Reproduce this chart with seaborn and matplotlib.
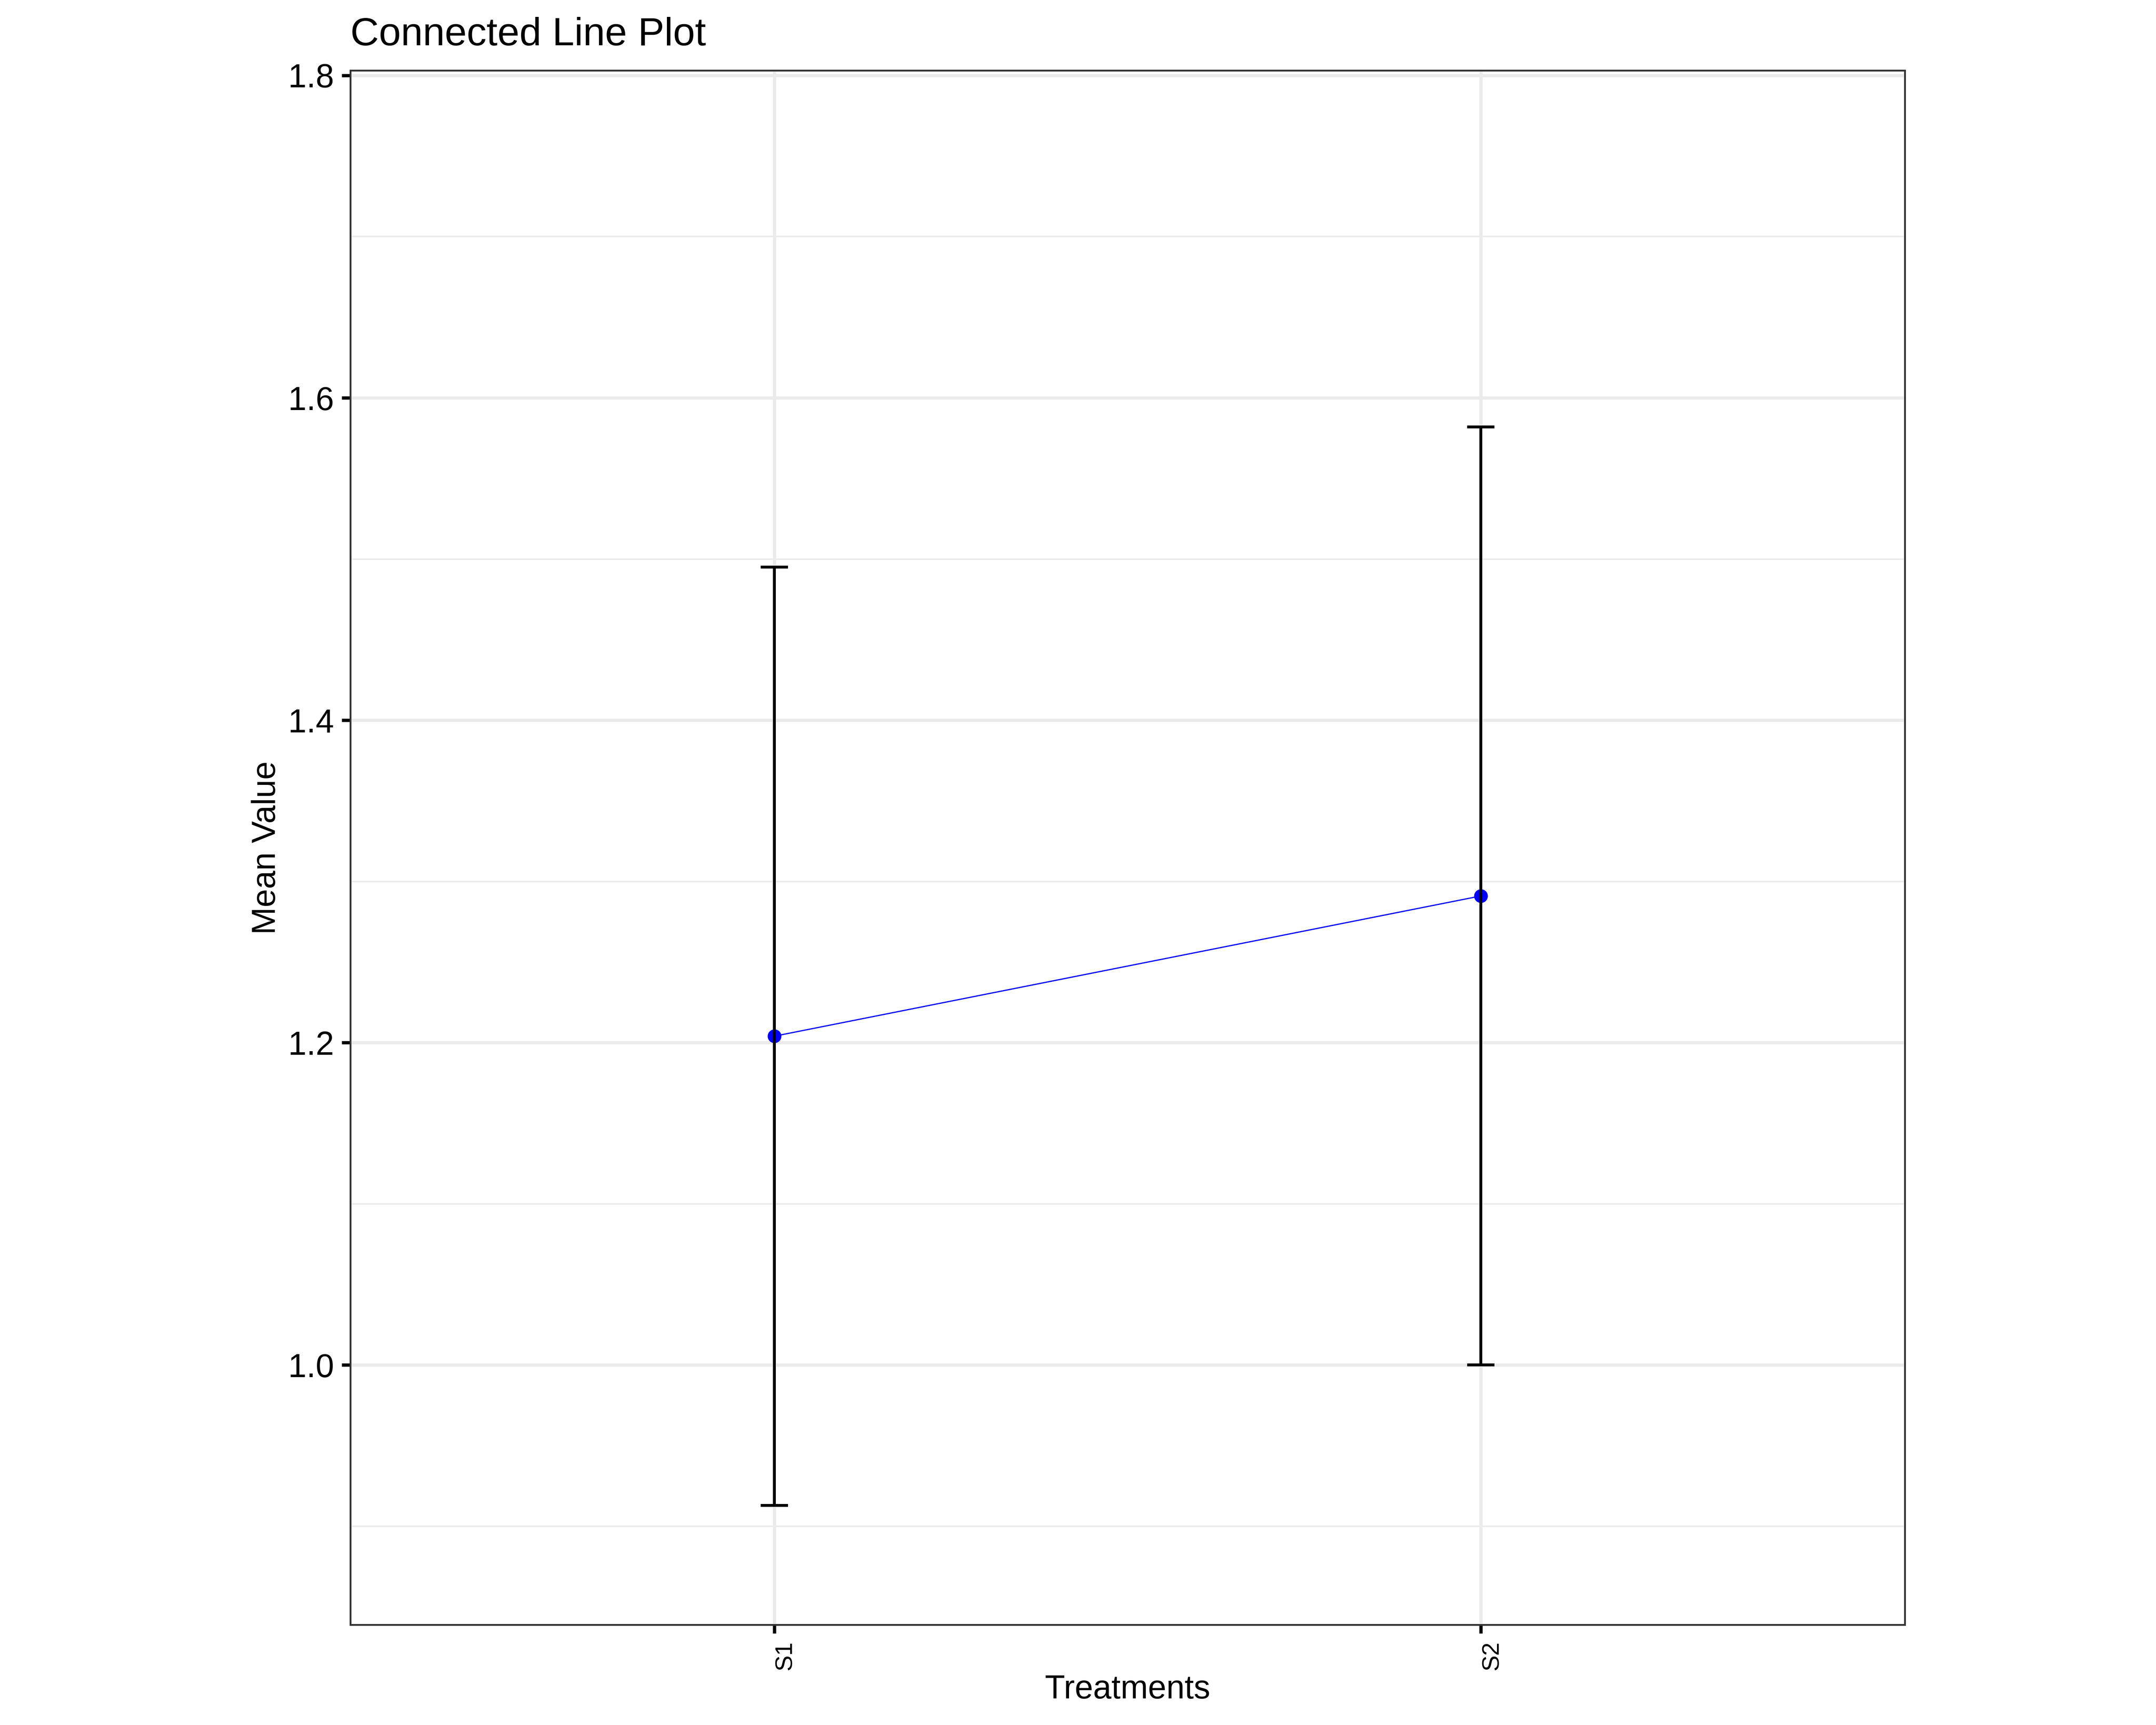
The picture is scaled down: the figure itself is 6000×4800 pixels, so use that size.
import numpy as np
import pandas as pd
import matplotlib
matplotlib.use('Agg')
import matplotlib.pyplot as plt
import seaborn as sns
from matplotlib.ticker import FixedLocator

# values
treatments = ["S1", "S2"]
mean_values = [1.204, 1.291]
err_values = [0.291, 0.291]
y_major = [1.0, 1.2, 1.4, 1.6, 1.8]
y_minor = [0.9, 1.1, 1.3, 1.5, 1.7]

df = pd.DataFrame({"Treatments": treatments, "Mean": mean_values, "Err": err_values})

sns.set_theme(style="white")
plt.rcParams['font.family'] = ['Liberation Sans', 'DejaVu Sans']

fig = plt.figure(figsize=(10, 8), dpi=600)
# square panel, like ggplot aspect.ratio = 1
ax = fig.add_axes([975 / 6000, 1 - 4521 / 4800, 4326 / 6000, 4325 / 4800])

sns.lineplot(data=df, x="Treatments", y="Mean", sort=False, color="blue",
             linewidth=0.4, ax=ax, zorder=2)
sns.scatterplot(data=df, x="Treatments", y="Mean", color="blue", s=21,
                linewidth=0, ax=ax, zorder=3)
ax.errorbar(df["Treatments"], df["Mean"], yerr=df["Err"], fmt="none",
            ecolor="black", elinewidth=0.96, capsize=4.6, capthick=0.96, zorder=4)

ax.set_xlim(-0.6, 1.6)
ax.set_ylim(0.8389, 1.8031)

ax.yaxis.set_major_locator(FixedLocator(y_major))
ax.yaxis.set_minor_locator(FixedLocator(y_minor))
ax.set_yticklabels([f"{v:.1f}" for v in y_major], fontsize=11, color="black")
ax.set_xticks(range(len(treatments)))
ax.set_xticklabels(treatments, rotation=90, ha="left", fontsize=8, color="black")

ax.grid(which="major", color="#EBEBEB", linewidth=1.07)
ax.grid(which="minor", axis="y", color="#EBEBEB", linewidth=0.53)
ax.set_axisbelow(True)

ax.tick_params(axis="both", which="major", length=2.9, width=1.1, color="black",
               pad=2.6, left=True, bottom=True)
ax.tick_params(axis="both", which="minor", length=0)

for sp in ax.spines.values():
    sp.set_visible(True)
    sp.set_color("#333333")
    sp.set_linewidth(0.6)

ax.set_xlabel("Treatments", fontsize=11, color="black", labelpad=1.3)
ax.set_ylabel("Mean Value", fontsize=11, color="black", labelpad=2)
ax.set_title("Connected Line Plot", loc="left", fontsize=13.2, color="black", pad=8.4)

fig.savefig("out.png", dpi=600, facecolor="white")
plt.close(fig)
